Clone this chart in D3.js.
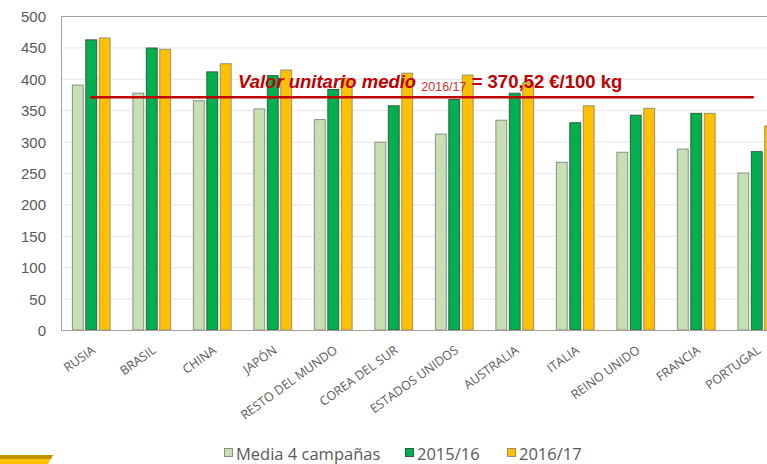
<!DOCTYPE html>
<html lang="es">
<head>
<meta charset="utf-8">
<title>Valor unitario medio</title>
<script src="https://d3js.org/d3.v7.min.js"></script>
<style>
  body { margin: 0; background: #fff; }
  .tick text { fill: #595959; }
</style>
</head>
<body>
<script>
  var paises = ["RUSIA", "BRASIL", "CHINA", "JAPÓN", "RESTO DEL MUNDO", "COREA DEL SUR",
                "ESTADOS UNIDOS", "AUSTRALIA", "ITALIA", "REINO UNIDO", "FRANCIA", "PORTUGAL"];
  var series = ["Media 4 campañas", "2015/16", "2016/17"];
  var media4 = [390, 377, 365, 352, 335, 299, 312, 334, 267, 283, 288, 250];
  var c1516  = [462, 449, 411, 405, 383, 357, 367, 377, 330, 342, 345, 284];
  var c1617  = [465, 447, 424, 414, 401, 409, 406, 394, 357, 353, 345, 325];
  var yTicks = [0, 50, 100, 150, 200, 250, 300, 350, 400, 450, 500];
  var valorMedio = 370.52;

  var colores = ["#c6e0b4", "#00b050", "#ffc000"];
  var bordes = ["#8a8f86", "#2f5f3a", "#9a9070"];

  var width = 767, height = 464;
  var pLeft = 61, pTop = 16, pBottom = 330, pRight = 787;

  var svg = d3.select("body").append("svg")
      .attr("width", width).attr("height", height)
      .style("font-family", "'Open Sans', sans-serif");

  var y = d3.scaleLinear().domain([0, 500]).range([pBottom, pTop]);

  var x0 = d3.scaleBand().domain(paises).range([pLeft, pRight])
      .paddingInner(0.36).paddingOuter(0.18);

  var x1 = d3.scaleBand().domain(series).range([0, x0.bandwidth()])
      .paddingInner(0.12);

  // grid
  svg.append("g").selectAll("line")
    .data(yTicks.slice(1))
    .enter().append("line")
      .attr("x1", pLeft).attr("x2", width)
      .attr("y1", function(d) { return y(d) + 0.5; })
      .attr("y2", function(d) { return y(d) + 0.5; })
      .attr("stroke", "#e6e6e6").attr("stroke-width", 1);

  // y axis labels
  var ya = svg.append("g")
      .attr("transform", "translate(" + (pLeft - 15) + ",0)")
      .call(d3.axisLeft(y).tickValues(yTicks).tickSize(0).tickPadding(0));
  ya.select(".domain").remove();
  ya.selectAll("text").style("font-size", "15px").attr("dy", "0.36em");

  // bars
  var filas = paises.map(function(p, i) {
    return { pais: p, vals: [media4[i], c1516[i], c1617[i]] };
  });

  var grupos = svg.append("g").selectAll("g")
    .data(filas)
    .enter().append("g")
      .attr("transform", function(d) { return "translate(" + x0(d.pais) + ",0)"; });

  grupos.selectAll("rect")
    .data(function(d) { return d.vals.map(function(v, j) { return { s: series[j], v: v, j: j }; }); })
    .enter().append("rect")
      .attr("x", function(d) { return x1(d.s) + 0.5; })
      .attr("width", x1.bandwidth() - 1)
      .attr("y", function(d) { return y(d.v); })
      .attr("height", function(d) { return y(0) - y(d.v); })
      .attr("fill", function(d) { return colores[d.j]; })
      .attr("stroke", function(d) { return bordes[d.j]; })
      .attr("stroke-width", 1);

  // plot border (left, top, bottom)
  svg.append("path")
      .attr("d", "M" + width + "," + (pTop + 0.5) + "H" + (pLeft + 0.5) + "V" + (pBottom + 0.5) + "H" + width)
      .attr("fill", "none").attr("stroke", "#a8a098").attr("stroke-width", 1);

  // x labels
  svg.append("g").selectAll("text")
    .data(paises)
    .enter().append("text")
      .attr("transform", function(d) {
        return "translate(" + (x0(d) + x0.bandwidth() / 2 + 5) + ",352) rotate(-36)";
      })
      .attr("text-anchor", "end")
      .attr("fill", "#595959")
      .style("font-size", "12.5px")
      .text(function(d) { return d; });

  // mean line
  var xa = x0(paises[0]) + x0.bandwidth() / 2 - 1;
  var xb = x0(paises[paises.length - 1]) + x0.bandwidth() / 2 - 3;
  svg.append("line")
      .attr("x1", xa).attr("x2", xb)
      .attr("y1", y(valorMedio)).attr("y2", y(valorMedio))
      .attr("stroke", "#c00000").attr("stroke-width", 2.5);

  var nota = svg.append("text")
      .attr("x", 238).attr("y", 88)
      .attr("fill", "#c00000")
      .style("font-family", "'Liberation Sans', Arial, sans-serif")
      .style("font-size", "18.5px")
      .style("font-weight", "bold");
  nota.append("tspan").style("font-style", "italic").text("Valor unitario medio ");
  nota.append("tspan").attr("dy", 3).style("font-size", "12.5px").style("font-weight", "normal")
      .attr("fill", "#d03030").text("2016/17");
  nota.append("tspan").attr("dy", -3).text(" = " + d3.format(".2f")(valorMedio).replace(".", ",") + " €/100 kg");

  // legend
  var legX = [224, 405, 507];
  var leg = svg.append("g").selectAll("g")
    .data(series)
    .enter().append("g")
      .attr("transform", function(d, i) { return "translate(" + legX[i] + ",448)"; });
  leg.append("rect")
      .attr("x", 0.5).attr("y", 0.5)
      .attr("width", 8).attr("height", 8)
      .attr("fill", function(d, i) { return colores[i]; })
      .attr("stroke", function(d, i) { return bordes[i]; });
  leg.append("text")
      .attr("x", 12).attr("y", 12)
      .attr("fill", "#595959")
      .style("font-size", "16.5px")
      .text(function(d) { return d; });

  // decoration bottom-left
  svg.append("path")
      .attr("d", "M0,455H53L48,464H0Z").attr("fill", "#ffc000");
  svg.append("path")
      .attr("d", "M0,455H53L51,459H0Z").attr("fill", "#c09200");
</script>
</body>
</html>
